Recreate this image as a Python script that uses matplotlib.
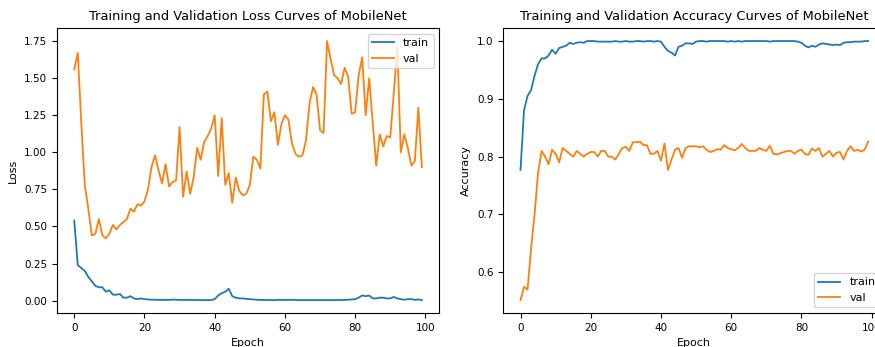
import numpy as np
import matplotlib
matplotlib.use('Agg')
import matplotlib.pyplot as plt

epochs = np.arange(100)

train_loss = [0.54, 0.24, 0.22, 0.20, 0.16, 0.13, 0.10, 0.09, 0.09, 0.06,
              0.07, 0.04, 0.04, 0.045, 0.02, 0.02, 0.03, 0.015, 0.01, 0.015,
              0.01, 0.008, 0.006, 0.006, 0.005, 0.005, 0.005, 0.005, 0.007, 0.006,
              0.005, 0.005, 0.005, 0.005, 0.004, 0.004, 0.004, 0.004, 0.004, 0.004,
              0.01, 0.035, 0.05, 0.06, 0.08, 0.03, 0.02, 0.015, 0.015, 0.012,
              0.01, 0.008, 0.006, 0.005, 0.005, 0.004, 0.004, 0.004, 0.005, 0.005,
              0.005, 0.005, 0.006, 0.004, 0.004, 0.004, 0.004, 0.004, 0.004, 0.004,
              0.004, 0.004, 0.004, 0.004, 0.004, 0.004, 0.004, 0.005, 0.006, 0.008,
              0.01, 0.02, 0.035, 0.03, 0.035, 0.015, 0.015, 0.02, 0.02, 0.015,
              0.015, 0.025, 0.015, 0.01, 0.006, 0.01, 0.01, 0.005, 0.008, 0.004]

val_loss = [1.56, 1.67, 1.20, 0.78, 0.62, 0.44, 0.45, 0.55, 0.44, 0.42,
            0.45, 0.51, 0.48, 0.51, 0.53, 0.55, 0.62, 0.60, 0.65, 0.64,
            0.67, 0.75, 0.90, 0.98, 0.88, 0.79, 0.92, 0.77, 0.80, 0.81,
            1.17, 0.70, 0.87, 0.72, 0.83, 1.03, 0.95, 1.07, 1.11, 1.16,
            1.25, 0.84, 1.23, 0.78, 0.86, 0.66, 0.83, 0.74, 0.71, 0.72,
            0.78, 0.97, 0.95, 0.89, 1.39, 1.41, 1.21, 1.27, 1.05, 1.19,
            1.25, 1.22, 1.06, 0.99, 0.97, 0.98, 1.08, 1.33, 1.44, 1.39,
            1.15, 1.13, 1.75, 1.63, 1.52, 1.50, 1.46, 1.57, 1.51, 1.26,
            1.27, 1.52, 1.64, 1.25, 1.50, 1.20, 0.91, 1.12, 1.04, 1.11,
            1.10, 1.40, 1.71, 1.00, 1.12, 1.03, 0.91, 0.94, 1.30, 0.90]

train_acc = [0.777, 0.88, 0.905, 0.915, 0.94, 0.96, 0.97, 0.97, 0.975, 0.985,
             0.978, 0.988, 0.99, 0.992, 0.997, 0.995, 0.997, 0.998, 0.997, 1.0,
             1.0, 1.0, 0.999, 0.999, 0.999, 0.999, 0.999, 1.0, 0.999, 0.999,
             1.0, 0.999, 0.999, 1.0, 1.0, 0.999, 1.0, 1.0, 0.999, 1.0,
             0.999, 0.99, 0.983, 0.98, 0.975, 0.99, 0.992, 0.996, 0.996, 0.995,
             0.999, 1.0, 1.0, 0.999, 1.0, 1.0, 1.0, 1.0, 1.0, 0.999,
             1.0, 0.999, 1.0, 0.999, 1.0, 1.0, 1.0, 1.0, 1.0, 1.0,
             1.0, 0.999, 1.0, 1.0, 1.0, 1.0, 1.0, 1.0, 1.0, 0.999,
             0.997, 0.992, 0.989, 0.992, 0.99, 0.994, 0.996, 0.995, 0.994, 0.993,
             0.994, 0.993, 0.997, 0.998, 0.998, 0.999, 0.999, 0.999, 1.0, 1.0]

val_acc = [0.552, 0.575, 0.57, 0.64, 0.70, 0.772, 0.81, 0.80, 0.787, 0.812,
           0.805, 0.79, 0.815, 0.81, 0.805, 0.80, 0.81, 0.805, 0.80, 0.805,
           0.808, 0.808, 0.80, 0.81, 0.81, 0.80, 0.80, 0.795, 0.805, 0.815,
           0.817, 0.81, 0.825, 0.825, 0.826, 0.82, 0.82, 0.805, 0.805, 0.81,
           0.793, 0.823, 0.777, 0.795, 0.812, 0.815, 0.798, 0.815, 0.818, 0.818,
           0.818, 0.816, 0.818, 0.812, 0.808, 0.81, 0.813, 0.812, 0.82, 0.815,
           0.813, 0.811, 0.815, 0.822, 0.815, 0.81, 0.81, 0.81, 0.815, 0.812,
           0.81, 0.819, 0.805, 0.804, 0.806, 0.808, 0.81, 0.81, 0.805, 0.81,
           0.812, 0.805, 0.803, 0.814, 0.81, 0.815, 0.80, 0.805, 0.81, 0.80,
           0.807, 0.808, 0.795, 0.81, 0.818, 0.81, 0.812, 0.809, 0.812, 0.826]

plt.rcParams['font.size'] = 7.5
plt.rcParams['legend.fontsize'] = 8

fig = plt.figure(figsize=(8.75, 3.47), dpi=100)
ax1 = fig.add_axes([0.065, 0.098, 0.437, 0.821])
ax2 = fig.add_axes([0.575, 0.098, 0.437, 0.821])

# loss curves
ax1.plot(epochs, train_loss, label='train', lw=1.3)
ax1.plot(epochs, val_loss, label='val', lw=1.3)
ax1.set_title('Training and Validation Loss Curves of MobileNet', fontsize=9.4)
ax1.set_xlabel('Epoch', fontsize=8)
ax1.set_ylabel('Loss', fontsize=8)
ax1.legend(loc='upper right')

# accuracy curves
ax2.plot(epochs, train_acc, label='train', lw=1.3)
ax2.plot(epochs, val_acc, label='val', lw=1.3)
ax2.set_title('Training and Validation Accuracy Curves of MobileNet', fontsize=9.4)
ax2.set_xlabel('Epoch', fontsize=8)
ax2.set_ylabel('Accuracy', fontsize=8)
ax2.legend(loc='lower right')

fig.savefig('out.png', dpi=100)
